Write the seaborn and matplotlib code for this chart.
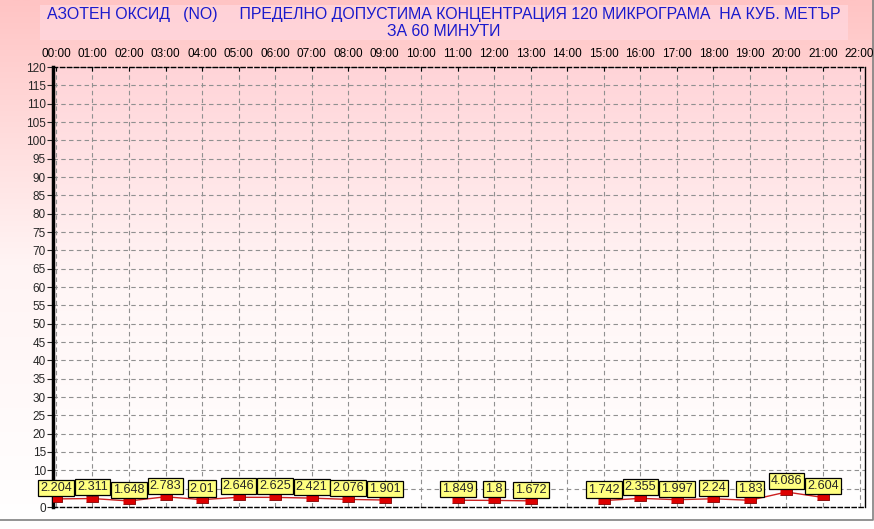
import numpy as np
import pandas as pd
import matplotlib
matplotlib.use('Agg')
import matplotlib.pyplot as plt
import seaborn as sns
from matplotlib.patches import Rectangle

# Data: hourly NO values (NaN = no measurement)
hours = list(range(22))
values = [2.204, 2.311, 1.648, 2.783, 2.01, 2.646, 2.625, 2.421, 2.076, 1.901,
          np.nan, 1.849, 1.8, 1.672, np.nan, 1.742, 2.355, 1.997, 2.24, 1.83,
          4.086, 2.604]
tick_labels = [f'{h:02d}:00' for h in range(23)]
title_line1 = 'АЗОТЕН ОКСИД   (NO)     ПРЕДЕЛНО ДОПУСТИМА КОНЦЕНТРАЦИЯ 120 МИКРОГРАМА  НА КУБ. МЕТЪР'
title_line2 = 'ЗА 60 МИНУТИ'

sns.set_style('white')
plt.rcParams['font.family'] = ['Liberation Sans', 'DejaVu Sans']

fig = plt.figure(figsize=(8.74, 5.29), dpi=100)

# figure background gradient (pink -> white)
bg = fig.add_axes([0, 0, 1, 1], zorder=-10)
grad = np.linspace(0, 1, 256).reshape(-1, 1)
cmap_bg = matplotlib.colors.LinearSegmentedColormap.from_list('bg', ['#ffc4c4', '#fff4f4', '#ffffff'])
bg.imshow(grad, aspect='auto', cmap=cmap_bg, extent=[0, 1, 0, 1], origin='upper')
bg.set_xlim(0, 1)
bg.set_ylim(0, 1)
bg.axis('off')
# title box
bg.add_patch(Rectangle((40 / 874, 1 - 40 / 529), 808 / 874, 35 / 529,
                       facecolor='#ffd8e0', edgecolor='none', alpha=0.7))
bg.plot([0, 872.5 / 874, 872.5 / 874], [1 - 520 / 529, 1 - 520 / 529, 1], color='#808080', lw=1.2)

fig.text(444 / 874, 1 - 15 / 529, title_line1, ha='center', va='center', color='#1a1acc', fontsize=11.4)
fig.text(444 / 874, 1 - 31 / 529, title_line2, ha='center', va='center', color='#1a1acc', fontsize=11.4)

ax = fig.add_axes([53 / 874, 1 - 507 / 529, (865 - 53) / 874, (507 - 67) / 529])
ax.set_xlim(-0.08, 22.15)
ax.set_ylim(0, 120)

# plot area gradient
cmap_ax = matplotlib.colors.LinearSegmentedColormap.from_list('ax', ['#ffd4d8', '#fff6f6', '#ffffff'])
ax.imshow(grad, aspect='auto', cmap=cmap_ax, extent=[-0.08, 22.15, 0, 120], origin='upper', zorder=0)

ax.set_xticks(range(23))
ax.set_xticklabels(tick_labels)
ax.set_yticks(range(0, 121, 5))
ax.xaxis.tick_top()
ax.tick_params(axis='x', top=True, bottom=False, direction='in', length=3, labelsize=8.5, pad=5, colors='black')
ax.tick_params(axis='y', left=True, direction='out', length=4, labelsize=8.5, pad=1)
ax.grid(True, color='#909090', linestyle=(0, (4, 3)), linewidth=0.8, zorder=1)

for side in ['top', 'bottom']:
    ax.spines[side].set_linestyle((0, (3, 2)))
    ax.spines[side].set_linewidth(1.0)
    ax.spines[side].set_color('black')
ax.spines['left'].set_linewidth(2.5)
ax.spines['left'].set_color('black')
ax.spines['right'].set_linewidth(1.0)
ax.spines['right'].set_color('black')

df = pd.DataFrame({'hour': hours, 'value': values})
# split into continuous runs so gaps stay open
df['run'] = df['value'].isna().cumsum()
rect_marker = [(-1.7, -1), (1.7, -1), (1.7, 1), (-1.7, 1)]
for _, seg in df.dropna().groupby('run'):
    sns.lineplot(data=seg, x='hour', y='value', ax=ax, color='#cc2020', linewidth=1,
                 marker=rect_marker, markersize=8, markerfacecolor='#dd0000',
                 markeredgecolor='#800000', markeredgewidth=0.6, zorder=3)

for h, v in zip(hours, values):
    if np.isnan(v):
        continue
    ax.annotate(f'{v:g}', (h, v), xytext=(0, 8), textcoords='offset points',
                ha='center', va='center', fontsize=9.1, zorder=5,
                bbox=dict(boxstyle='square,pad=0.16', facecolor='#ffff80', edgecolor='black', lw=0.9))

ax.set_xlabel('')
ax.set_ylabel('')

fig.savefig('out.png', dpi=100)
